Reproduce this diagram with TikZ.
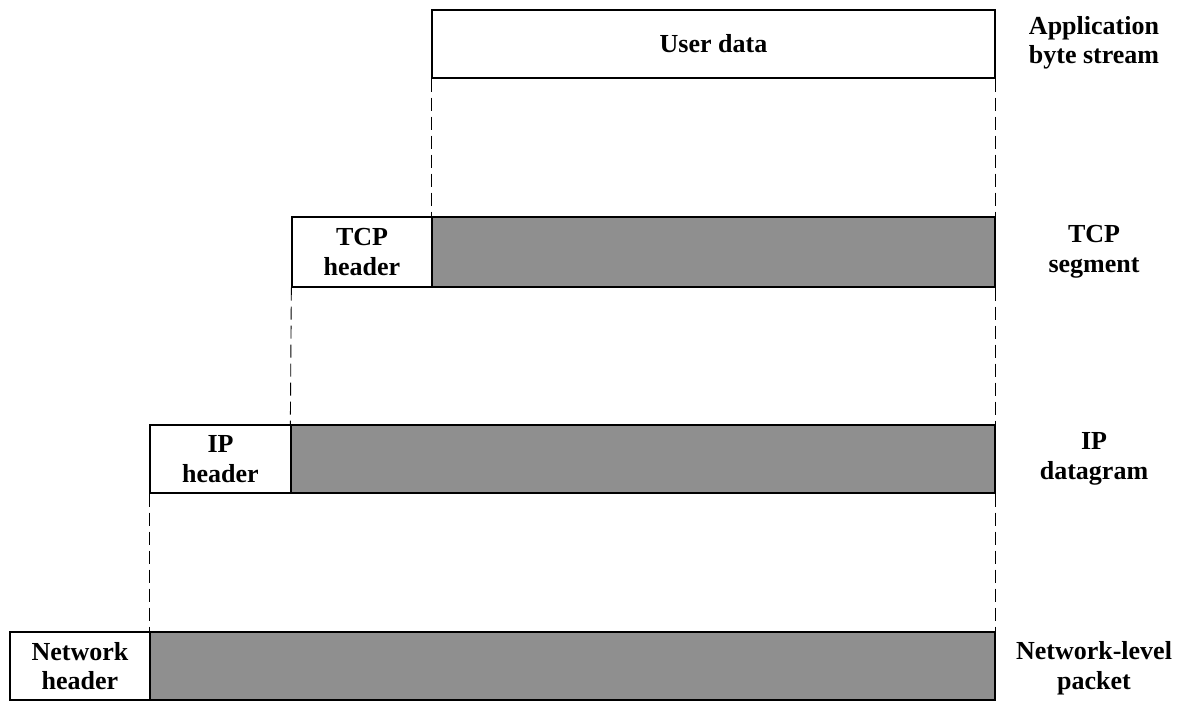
\documentclass[tikz,border=0pt]{standalone}
\usepackage{fontspec}
\setmainfont{Liberation Serif}
\definecolor{payload}{gray}{0.56}
\begin{document}
\begin{tikzpicture}[x=1pt,y=-1pt,
  txt/.style={font=\fontsize{26}{29.5}\selectfont\bfseries,align=center},
  box/.style={txt,draw,line width=1.3pt,inner sep=0pt},
  hdr/.style={box,fill=white},
  pay/.style={box,fill=payload},
  guide/.style={line width=0.9pt,dash pattern=on 13pt off 6pt}]
\useasboundingbox (0,0) rectangle (1189,701);
% application data
\node[hdr,minimum width=563pt,minimum height=68pt] (ud) at (713.5,44) {User data};
% TCP segment
\node[hdr,minimum width=140pt,minimum height=70pt] (th) at (362,252) {TCP\\header};
\node[pay,minimum width=563pt,minimum height=70pt] (ts) at (713.5,252) {};
% IP datagram
\node[hdr,minimum width=141pt,minimum height=68pt] (ih) at (220.5,459) {IP\\header};
\node[pay,minimum width=704pt,minimum height=68pt] (ip) at (643,459) {};
% network packet
\node[hdr,minimum width=140pt,minimum height=68pt] (nh) at (80,666) {Network\\header};
\node[pay,minimum width=845pt,minimum height=68pt] (np) at (572.5,666) {};
% guides
\draw[guide] (ud.south west) -- (ts.north west);
\draw[guide] (ud.south east) -- (ts.north east);
\draw[guide] (th.south west) -- (ip.north west);
\draw[guide] (ts.south east) -- (ip.north east);
\draw[guide] (ih.south west) -- (np.north west);
\draw[guide] (ip.south east) -- (np.north east);
% labels
\node[txt] (la) at (1094,43) {Application\\byte stream};
\node[txt] (lt) at (1094,252) {TCP\\segment};
\node[txt] (li) at (1094,459) {IP\\datagram};
\node[txt] (ln) at (1094,668) {Network-level\\packet};
\end{tikzpicture}
\end{document}
